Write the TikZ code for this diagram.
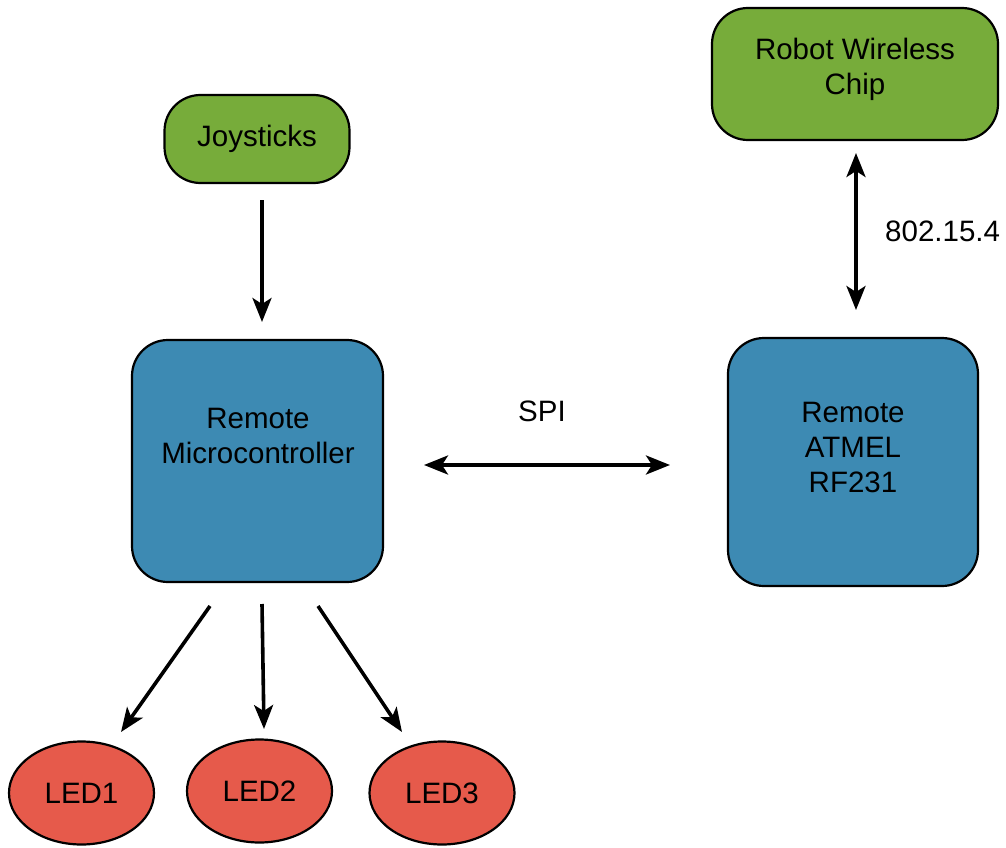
\documentclass[tikz,border=0pt]{standalone}
\usepackage{fontspec}
\setmainfont{Liberation Sans}
\usetikzlibrary{arrows.meta,shapes.geometric}
\definecolor{gfill}{RGB}{119,172,58}
\definecolor{bfill}{RGB}{61,138,179}
\definecolor{rfill}{RGB}{230,90,75}
\tikzset{
  greenbox/.style={draw=black,line width=2.2pt,fill=gfill,rounded corners=36pt,align=center,font=\fontsize{29.5}{35}\selectfont,inner sep=0pt},
  bluebox/.style={draw=black,line width=2.2pt,fill=bfill,rounded corners=36pt,inner sep=0pt},
  ledshape/.style={draw=black,line width=2.2pt,fill=rfill,ellipse,inner sep=0pt,minimum width=145pt,minimum height=103pt,font=\fontsize{29.5}{35}\selectfont},
  txt/.style={align=center,font=\fontsize{29.5}{35}\selectfont,inner sep=0pt},
  conn/.style={line width=3.6pt,-{Stealth[length=24pt,width=19pt,inset=6pt]}},
  biconn/.style={line width=3.6pt,{Stealth[length=24pt,width=19pt,inset=6pt]}-{Stealth[length=24pt,width=19pt,inset=6pt]}}
}
\begin{document}
\begin{tikzpicture}[x=1pt,y=-1pt]
\useasboundingbox (0,0) rectangle (1006,848);
\node[greenbox,minimum width=185pt,minimum height=88pt] (joy) at (257,139) {Joysticks};
\node[greenbox,minimum width=286pt,minimum height=132pt] (robot) at (855,74) {};
\node[txt] (robottxt) at (855,69) {Robot Wireless\\Chip};
\node[bluebox,minimum width=251pt,minimum height=242pt] (mcu) at (257.5,461) {};
\node[txt] (mcutxt) at (258,436) {Remote\\Microcontroller};
\node[bluebox,minimum width=250pt,minimum height=248pt] (rf) at (853,462) {};
\node[txt] (rftxt) at (853,447) {Remote\\ATMEL\\RF231};
\node[ledshape] (led1) at (81.5,793) {LED1};
\node[ledshape] (led2) at (259.5,791) {LED2};
\node[ledshape] (led3) at (442,793) {LED3};
\coordinate (j1) at (262,200);
\coordinate (j2) at (262,322);
\draw[conn] (j1) -- (j2);
\coordinate (s1) at (424,465);
\coordinate (s2) at (670,465);
\draw[biconn] (s1) -- (s2);
\node[txt] (spi) at (542,411) {SPI};
\coordinate (w1) at (856,153);
\coordinate (w2) at (856,310);
\draw[biconn] (w1) -- (w2);
\node[txt,anchor=west] (wl) at (885,231) {802.15.4};
\coordinate (a1) at (210,606);
\coordinate (a2) at (121,732);
\coordinate (b1) at (262,604);
\coordinate (b2) at (264,729);
\coordinate (c1) at (318,606);
\coordinate (c2) at (402,732);
\draw[conn] (a1) -- (a2);
\draw[conn] (b1) -- (b2);
\draw[conn] (c1) -- (c2);
\end{tikzpicture}
\end{document}
